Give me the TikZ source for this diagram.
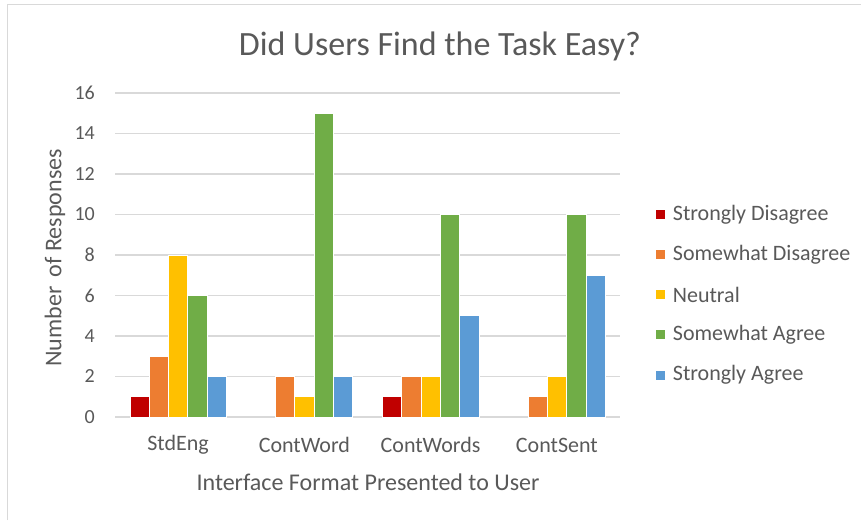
\documentclass[tikz,border=0pt]{standalone}
\usepackage{fontspec}
\setmainfont{Carlito}
\usetikzlibrary{positioning}
\definecolor{txtgray}{HTML}{595959}
\definecolor{gridgray}{HTML}{D9D9D9}
\definecolor{sdis}{HTML}{C00000}
\definecolor{wdis}{HTML}{ED7D31}
\definecolor{neut}{HTML}{FFC000}
\definecolor{wagr}{HTML}{70AD47}
\definecolor{sagr}{HTML}{5B9BD5}
\tikzset{
	lbl/.style={text=txtgray, font=\fontsize{22}{26}\selectfont, inner sep=0pt},
	ticklbl/.style={lbl, font=\fontsize{20}{24}\selectfont},
	axtitle/.style={lbl, font=\fontsize{24}{28}\selectfont},
	bar/.style={draw=white, line width=0.6pt},
	swatch/.style={minimum size=9pt, inner sep=0pt},
}
\begin{document}
\begin{tikzpicture}[x=1pt,y=-1pt]
		\useasboundingbox (0,0) rectangle (861,520);
		\draw[gridgray, line width=1.5pt] (7.5,520) -- (7.5,4.5) -- (861,4.5);

		\node[text=txtgray, font=\fontsize{34}{40}\selectfont] (title) at (440,46) {Did Users Find the Task Easy?};

		% grid and ticks
		\foreach \v in {0,2,...,16} {
			\draw[gridgray, line width=1.2pt] (115,{417-20.25*\v}) -- (620,{417-20.25*\v});
			\node[ticklbl, anchor=east] (tick\v) at (95,{417-20.25*\v}) {\v};
		}

		% bars
		\foreach \k/\col/\vals in {0/sdis/{1,0,1,0},1/wdis/{3,2,2,1},2/neut/{8,1,2,2},3/wagr/{6,15,10,10},4/sagr/{2,2,5,7}} {
			\foreach \v [count=\g from 0] in \vals {
				\ifnum\v>0
					\filldraw[bar, fill=\col] ({129.85+126.25*\g+19.3*\k},417) rectangle ++(19.3,{-20.25*\v});
				\fi
			}
		}

		\node[lbl] (stdeng) at (178.1,445) {StdEng};
		\node[lbl] (contword) at (304.4,445) {ContWord};
		\node[lbl] (contwords) at (430.6,445) {ContWords};
		\node[lbl] (contsent) at (556.9,445) {ContSent};

		\node[axtitle] (xtitle) at (368,482) {Interface Format Presented to User};
		\node[axtitle, rotate=90] (ytitle) at (55,258) {Number\, of Responses};

		% legend
		\node[swatch, fill=sdis] (sw1) at (660,214.3) {};
		\node[swatch, fill=wdis] (sw2) at (660,254.5) {};
		\node[swatch, fill=neut] (sw3) at (660,294.7) {};
		\node[swatch, fill=wagr] (sw4) at (660,334.9) {};
		\node[swatch, fill=sagr] (sw5) at (660,375.1) {};
		\node[lbl, right=8pt of sw1] (leg1) {Strongly Disagree};
		\node[lbl, right=8pt of sw2] (leg2) {Somewhat Disagree};
		\node[lbl, right=8pt of sw3] (leg3) {Neutral};
		\node[lbl, right=8pt of sw4] (leg4) {Somewhat Agree};
		\node[lbl, right=8pt of sw5] (leg5) {Strongly Agree};
	\end{tikzpicture}
\end{document}
